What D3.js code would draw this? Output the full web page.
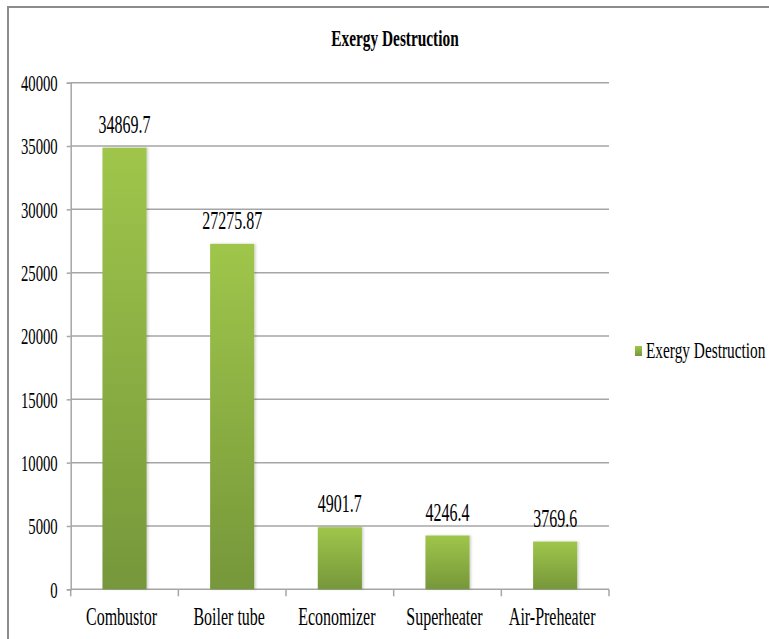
<!DOCTYPE html>
<html>
<head>
<meta charset="utf-8">
<script src="https://cdn.jsdelivr.net/npm/d3@7/dist/d3.min.js"></script>
<style>
  html, body { margin: 0; padding: 0; background: #fff; }
  svg { display: block; }
  svg text { font-family: "Liberation Serif", "Times New Roman", Tinos, serif !important; fill: #000; }
</style>
</head>
<body>
<svg id="chart" width="769" height="639"></svg>
<script>
// Exergy destruction per boiler component
const categories = ["Combustor", "Boiler tube", "Economizer", "Superheater", "Air-Preheater"];
const values = [34869.7, 27275.87, 4901.7, 4246.4, 3769.6];
const valueLabels = ["34869.7", "27275.87", "4901.7", "4246.4", "3769.6"];
const yTicks = [0, 5000, 10000, 15000, 20000, 25000, 30000, 35000, 40000];
const seriesName = "Exergy Destruction";
const chartTitle = "Exergy Destruction";

const W = 769, H = 639;
const plot = { left: 70.7, right: 609, top: 82.7, bottom: 589.3 };
const SX = 0.64; // narrow lettering
const FONT = "'Liberation Serif', 'Times New Roman', Tinos, serif";

const svg = d3.select("#chart");

// bar fill gradient
const defs = svg.append("defs");
const grad = defs.append("linearGradient")
  .attr("id", "barGrad").attr("x1", 0).attr("y1", 0).attr("x2", 0).attr("y2", 1);
grad.append("stop").attr("offset", "0%").attr("stop-color", "#9fc64b");
grad.append("stop").attr("offset", "100%").attr("stop-color", "#76973a");

const shadow = defs.append("filter").attr("id", "barShadow")
  .attr("x", "-20%").attr("y", "-5%").attr("width", "140%").attr("height", "110%");
shadow.append("feDropShadow").attr("dx", 1.5).attr("dy", 0).attr("stdDeviation", 1.2)
  .attr("flood-color", "#000").attr("flood-opacity", 0.18);

// outer frame (top and left edges)
svg.append("path")
  .attr("d", `M8,${H} L8,7 L${W},7`)
  .attr("fill", "none").attr("stroke", "#8c8c8c").attr("stroke-width", 2);

const x = d3.scaleBand().domain(categories).range([plot.left, plot.right]).paddingInner(0.59).paddingOuter(0.295);
const y = d3.scaleLinear().domain([0, 40000]).range([plot.bottom, plot.top]);

// horizontal gridlines
svg.append("g").selectAll("line").data(yTicks.filter(d => d > 0)).join("line")
  .attr("x1", plot.left).attr("x2", plot.right)
  .attr("y1", d => y(d)).attr("y2", d => y(d))
  .attr("stroke", "#a6a6a6").attr("stroke-width", 1.5);

// y axis
const yAxis = svg.append("g").attr("transform", `translate(${plot.left},0)`)
  .call(d3.axisLeft(y).tickValues(yTicks).tickSize(4).tickPadding(0).tickFormat(d3.format("d")));
yAxis.attr("font-family", FONT);
yAxis.select(".domain").attr("stroke", "#a6a6a6").attr("stroke-width", 1.5);
yAxis.selectAll(".tick line").attr("stroke", "#a6a6a6").attr("stroke-width", 1.5);
yAxis.selectAll(".tick text")
  .style("font-family", FONT).attr("font-size", 23)
  .attr("x", -13 / SX).attr("dy", "0.34em")
  .attr("transform", `scale(${SX},1)`);

// x axis line with boundary ticks
const bounds = d3.range(categories.length + 1).map(i => plot.left + i * (plot.right - plot.left) / categories.length);
svg.append("line").attr("x1", plot.left).attr("x2", plot.right)
  .attr("y1", plot.bottom).attr("y2", plot.bottom)
  .attr("stroke", "#a6a6a6").attr("stroke-width", 1.5);
svg.append("g").selectAll("line").data(bounds).join("line")
  .attr("x1", d => d).attr("x2", d => d)
  .attr("y1", plot.bottom).attr("y2", plot.bottom + 7)
  .attr("stroke", "#a6a6a6").attr("stroke-width", 1.5);

// bars
svg.append("g").selectAll("rect").data(values).join("rect")
  .attr("x", (d, i) => x(categories[i]))
  .attr("width", x.bandwidth())
  .attr("y", d => y(d))
  .attr("height", d => y(0) - y(d))
  .attr("fill", "url(#barGrad)")
  .attr("filter", "url(#barShadow)");

// value labels
svg.append("g").selectAll("text").data(values).join("text")
  .attr("transform", (d, i) => `translate(${x(categories[i]) + x.bandwidth() / 2},${y(d) - 15}) scale(${SX},1)`)
  .attr("text-anchor", "middle").attr("font-size", 25)
  .style("font-family", FONT)
  .text((d, i) => valueLabels[i]);

// category labels
svg.append("g").selectAll("text").data(categories).join("text")
  .attr("transform", d => `translate(${x(d) + x.bandwidth() / 2 - 3},625) scale(${SX},1)`)
  .attr("text-anchor", "middle").attr("font-size", 25)
  .style("font-family", FONT)
  .text(d => d);

// title
svg.append("text")
  .attr("transform", `translate(395,46) scale(${SX},1)`)
  .attr("text-anchor", "middle").attr("font-size", 24).attr("font-weight", "bold")
  .style("font-family", FONT)
  .text(chartTitle);

// legend
const legend = svg.append("g");
legend.append("rect").attr("x", 635).attr("y", 346).attr("width", 7).attr("height", 10)
  .attr("fill", "url(#barGrad)");
legend.append("text")
  .attr("transform", `translate(646,358) scale(${SX},1)`)
  .attr("font-size", 24)
  .style("font-family", FONT)
  .text(seriesName);
</script>
</body>
</html>
